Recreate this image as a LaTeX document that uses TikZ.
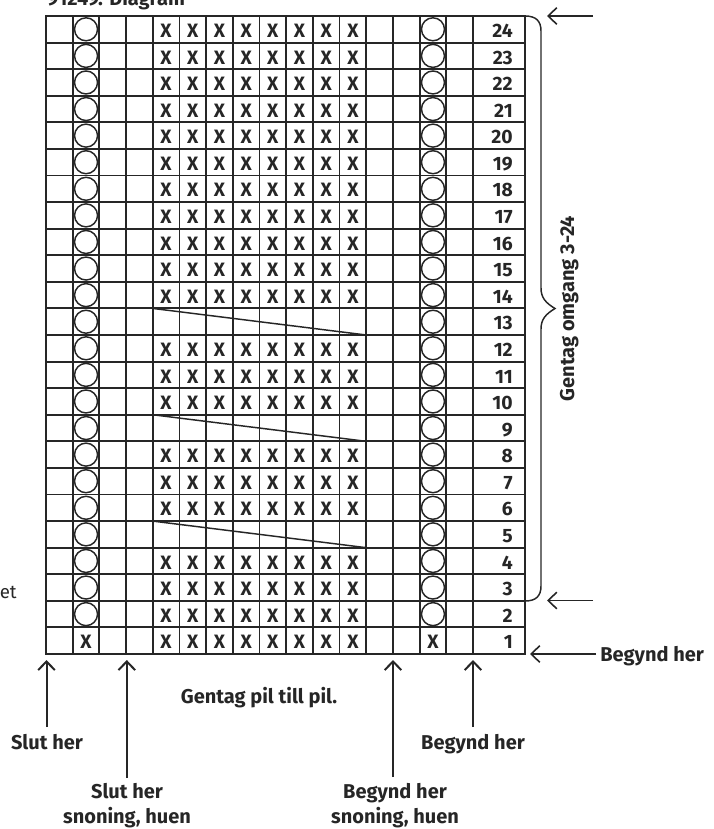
\documentclass[tikz,border=0pt]{standalone}
\usepackage{fontspec}
\setmainfont{Fira Sans}
\usetikzlibrary{arrows.meta}
\definecolor{ink}{HTML}{262626}
\begin{document}
\begin{tikzpicture}[x=0.75pt,y=-0.75pt,
  gridline/.style={draw=ink, line width=1.4pt, line cap=rect},
  lab/.style={font=\fontsize{15}{18.75}\selectfont\bfseries, text=ink, inner sep=0pt},
  cellmark/.style={font=\fontsize{14.5}{17}\selectfont\bfseries, text=ink, inner sep=0pt, text height=10pt, text depth=0pt},
  ring/.style={draw=ink, line width=1.1pt, circle, minimum size=17.25pt, inner sep=0pt},
  decrease/.style={draw=ink, line width=1.1pt},
  brace/.style={draw=ink, line width=1.1pt},
  arr/.style={draw=ink, line width=1.2pt, -{Straight Barb[length=6.5pt,width=12.5pt]}},
  varr/.style={arr, line width=1.5pt},
  ]
\useasboundingbox (0,0) rectangle (714,829);
\def\cellw{26.6875}
\def\rowh{26.5833}
% grid
\foreach \k in {0,...,16} \draw[gridline] ({46+\k*\cellw},16) -- ({46+\k*\cellw},654);
\draw[gridline] (525,16) -- (525,654);
\foreach \k in {0,...,24} \draw[gridline] (46,{16+\k*\rowh}) -- (525,{16+\k*\rowh});
% X marks
\foreach \r in {1,2,3,4,6,7,8,10,11,12,14,15,...,24}
  \foreach \c in {5,...,12}
    \node[cellmark] (x-\r-\c) at ({46+(\c-0.5)*\cellw},{654-(\r-0.5)*\rowh+1.5}) {X};
\foreach \c in {2,15}
  \node[cellmark] (x-1-\c) at ({46+(\c-0.5)*\cellw},{654-0.5*\rowh+1.5}) {X};
% circles
\foreach \r in {2,...,24}
  \foreach \c in {2,15}
    \node[ring] (o-\r-\c) at ({46+(\c-0.5)*\cellw},{654-(\r-0.5)*\rowh}) {};
% decrease lines
\foreach \r in {5,9,13} {
  \coordinate (d\r a) at ({46+4*\cellw},{654-\r*\rowh});
  \coordinate (d\r b) at ({46+12*\cellw},{654-(\r-1)*\rowh});
  \draw[decrease] (d\r a) -- (d\r b);
}
% row numbers
\foreach \r in {1,...,24}
  \node[cellmark, anchor=east] (n\r) at (513,{654-(\r-0.5)*\rowh+1.5}) {\r};
% brace
\draw[brace] (525,16) .. controls (536,16) and (541,21) .. (541,31) -- (541,288)
  .. controls (541,298) and (546,303) .. (555,308.5)
  .. controls (546,314) and (541,319) .. (541,329) -- (541,586)
  .. controls (541,596) and (536,601) .. (525,601);
\node[lab, rotate=90, anchor=base] (rep) at (574,308.5) {Gentag omgang 3-24};
% right arrows
\coordinate (t1s) at (593,16); \coordinate (t1e) at (547,16);
\draw[arr] (t1s) -- (t1e);
\coordinate (t2s) at (593,600.5); \coordinate (t2e) at (547,600.5);
\draw[arr] (t2s) -- (t2e);
\node[lab, anchor=base west] (bh0) at (600,661) {Begynd her};
\coordinate (bh0s) at (596,654); \coordinate (bh0e) at (530,654);
\draw[arr] (bh0s) -- (bh0e);
% bottom labels and arrows
\node[lab, anchor=base] (sh1) at (47,749) {Slut her};
\coordinate (sh1s) at (46.5,727); \coordinate (sh1e) at (46.5,660);
\draw[varr] (sh1s) -- (sh1e);
\node[lab, align=center, anchor=north] (sh2) at (127,783) {Slut her\\snoning, huen};
\coordinate (sh2s) at (126.8,778); \coordinate (sh2e) at (126.8,660);
\draw[varr] (sh2s) -- (sh2e);
\node[lab, align=center, anchor=north] (bh2) at (395,783) {Begynd her\\snoning, huen};
\coordinate (bh2s) at (393,777); \coordinate (bh2e) at (393,660);
\draw[varr] (bh2s) -- (bh2e);
\node[lab, anchor=base] (bh1) at (473,749) {Begynd her};
\coordinate (bh1s) at (473,727); \coordinate (bh1e) at (473,660);
\draw[varr] (bh1s) -- (bh1e);
\node[lab, anchor=base] (rep2) at (259,703) {Gentag pil till pil.};
% cropped texts
\node[lab, anchor=base west] (title) at (47,5) {91249. Diagram};
\node[font=\fontsize{14}{17}\selectfont, text=ink, anchor=base east, inner sep=0pt] (et) at (17,598) {et};
\end{tikzpicture}
\end{document}
